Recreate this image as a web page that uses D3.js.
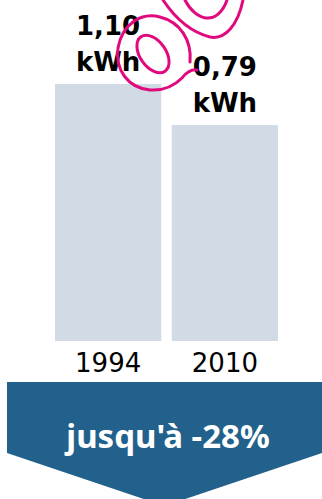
<!DOCTYPE html>
<html>
<head>
<meta charset="utf-8">
<script src="https://cdn.jsdelivr.net/npm/d3@7/dist/d3.min.js"></script>
<style>
  html, body { margin: 0; padding: 0; background: #fff; }
  svg { display: block; }
</style>
</head>
<body>
<script>
// Consumption per cycle, in kWh
const years = ["1994", "2010"];
const values = [1.10, 0.79];
const valueLabels = ["1,10", "0,79"];
const unit = "kWh";
const banner = "jusqu'à -28%";

const W = 322, H = 499;
const svg = d3.select("body").append("svg").attr("width", W).attr("height", H);

const x = d3.scaleBand().domain(years).range([55, 278]).paddingInner(0.09).paddingOuter(0);
// baseline of the value axis sits below zero so both bars stay tall
const y = d3.scaleLinear().domain([-0.84, 1.10]).range([341, 84]);

const g = svg.append("g");

g.selectAll("rect.bar").data(years).join("rect")
  .attr("class", "bar")
  .attr("x", d => x(d))
  .attr("width", x.bandwidth())
  .attr("y", (d, i) => y(values[i]))
  .attr("height", (d, i) => y.range()[0] - y(values[i]))
  .attr("fill", "#d2dae5");

// value labels above the bars
const lbl = g.selectAll("text.val").data(years).join("text")
  .attr("class", "val")
  .attr("text-anchor", "middle")
  .attr("font-family", "DejaVu Sans")
  .attr("font-weight", "bold")
  .attr("font-size", 26)
  .attr("fill", "#000");
lbl.append("tspan")
  .attr("x", d => x(d) + x.bandwidth() / 2)
  .attr("y", (d, i) => y(values[i]) - 49)
  .text((d, i) => valueLabels[i]);
lbl.append("tspan")
  .attr("x", d => x(d) + x.bandwidth() / 2)
  .attr("y", (d, i) => y(values[i]) - 13)
  .text(unit);

// year axis
const axis = g.append("g").attr("transform", `translate(0,${y.range()[0]})`)
  .call(d3.axisBottom(x).tickSize(0).tickPadding(0));
axis.select(".domain").remove();
axis.selectAll("text")
  .attr("dy", 31)
  .attr("font-family", "DejaVu Sans")
  .attr("font-size", 26)
  .attr("fill", "#000");

// downward arrow banner
const arTop = 382, arShoulder = 453, arTip = 506, arLeft = 7, arRight = 322;
svg.append("path")
  .attr("d", d3.line()([[arLeft, arTop], [arRight, arTop], [arRight, arShoulder], [(arLeft + arRight) / 2, arTip], [arLeft, arShoulder]]) + "Z")
  .attr("fill", "#21618c");
svg.append("text")
  .attr("x", 168).attr("y", 448)
  .attr("text-anchor", "middle")
  .attr("font-family", "Noto Sans")
  .attr("font-weight", "bold")
  .attr("font-size", 33)
  .attr("fill", "#fff")
  .text(banner);

// outlined logo mark over the top of the chart
const logo = svg.append("g")
  .attr("fill", "none")
  .attr("stroke", "#e0097e")
  .attr("stroke-width", 3)
  .attr("stroke-linecap", "round")
  .attr("stroke-linejoin", "round");
logo.append("path")
  .attr("d", "M190,62 C192,40 180,22 160,17 C140,12 122,25 118,48 C115,70 128,88 150,90 C165,91 175,85 182,78 C186,73 191,69 197,70");
logo.append("ellipse")
  .attr("transform", "translate(153,54) rotate(55)")
  .attr("rx", 21).attr("ry", 13);
logo.append("path")
  .attr("d", "M163,0 C175,18 190,32 210,37 C225,40 238,25 243,0");
logo.append("path")
  .attr("d", "M185,0 C190,10 198,17 206,18 C215,19 223,12 227,0");
</script>
</body>
</html>
